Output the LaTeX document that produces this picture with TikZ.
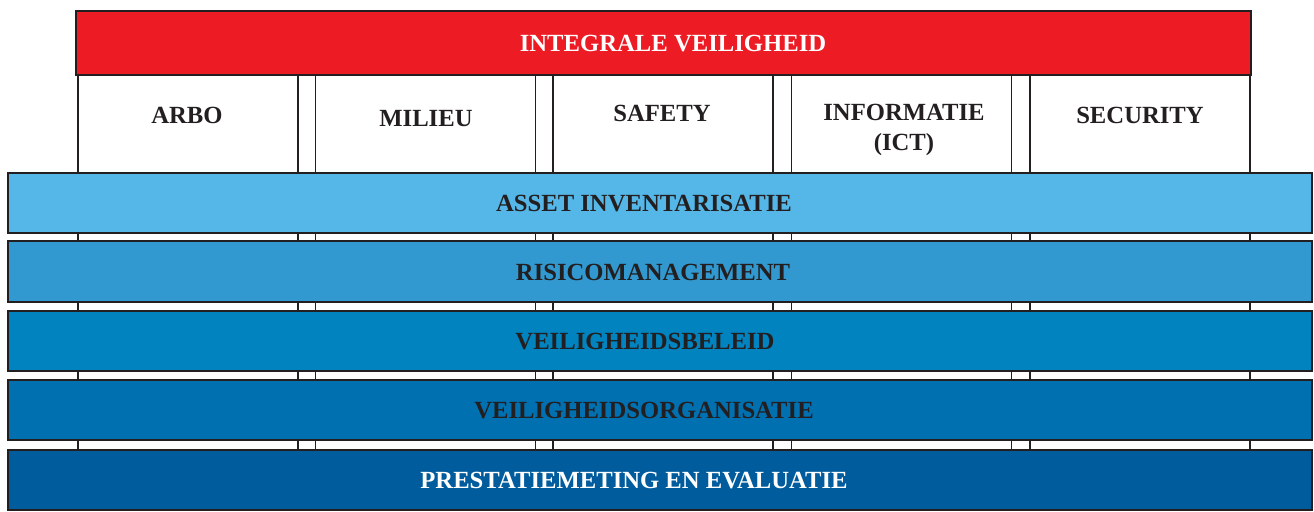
\documentclass[tikz,border=0pt]{standalone}
\usepackage{fontspec}
\setmainfont{Liberation Serif}
\definecolor{vgred}{HTML}{ED1C24}
\definecolor{vgline}{HTML}{231F20}
\definecolor{barone}{HTML}{55B7E8}
\definecolor{bartwo}{HTML}{3199D0}
\definecolor{barthree}{HTML}{0083BE}
\definecolor{barfour}{HTML}{0070B0}
\definecolor{barfive}{HTML}{005C9C}

\begin{document}
\begin{tikzpicture}[x=0.75pt,y=0.75pt,yscale=-1,xscale=1,
  lbl/.style={font=\fontsize{18.5}{23}\selectfont\bfseries, text=vgline, align=center, inner sep=0.75pt},
  column/.style={draw=vgline, line width=1.1pt, fill=white, inner sep=0pt, outer sep=0pt, minimum width=165pt, minimum height=281.25pt},
  band/.style={draw=vgline, line width=1.5pt, inner sep=0pt, outer sep=0pt, minimum width=978pt, minimum height=45pt}]
\useasboundingbox (0,0) rectangle (1314,511);

% Columns
\node [column] (arbo) at (188,262.5) {};
\node [column] (milieu) at (425.5,262.5) {};
\node [column] (safety) at (663,262.5) {};
\node [column] (ict) at (901.5,262.5) {};
\node [column] (security) at (1140,262.5) {};

% Column labels
\node [lbl] (arbotxt) at (187,115.5) {ARBO};
\node [lbl] (milieutxt) at (426,118.5) {MILIEU};
\node [lbl] (safetytxt) at (662,113.5) {SAFETY};
\node [lbl] (icttxt) at (904,130) {INFORMATIE\\(ICT)};
\node [lbl] (securitytxt) at (1140,115.5) {SECURITY};

% Top bar
\node [band, fill=vgred, minimum width=881.25pt, minimum height=48pt] (integraal) at (663.5,43) {};
\node [lbl, text=white] (integraaltxt) at (673,43.5) {INTEGRALE VEILIGHEID};

% Bands
\node [band, fill=barone] (asset) at (660,203) {};
\node [band, fill=bartwo, minimum height=45.75pt] (risico) at (660,271.5) {};
\node [band, fill=barthree] (beleid) at (660,341) {};
\node [band, fill=barfour] (organisatie) at (660,410) {};
\node [band, fill=barfive] (evaluatie) at (660,480) {};

% Band labels
\node [lbl] (assettxt) at (644,204) {ASSET INVENTARISATIE};
\node [lbl] (risicotxt) at (653,272) {RISICOMANAGEMENT};
\node [lbl] (beleidtxt) at (645,342) {VEILIGHEIDSBELEID};
\node [lbl] (organisatietxt) at (644,411) {VEILIGHEIDSORGANISATIE};
\node [lbl, text=white] (evaluatietxt) at (634,481) {PRESTATIEMETING EN EVALUATIE};

\end{tikzpicture}
\end{document}
